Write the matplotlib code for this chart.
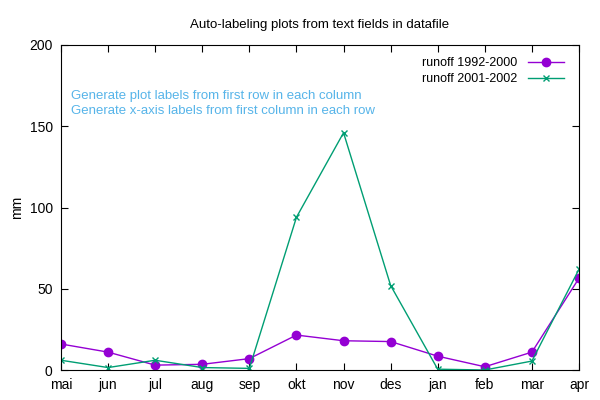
import matplotlib
matplotlib.use("Agg")
import matplotlib.pyplot as plt

plt.rcParams['font.family'] = ['Liberation Sans', 'DejaVu Sans']

months = ['mai', 'jun', 'jul', 'aug', 'sep', 'okt', 'nov', 'des', 'jan', 'feb', 'mar', 'apr']
runoff_1992_2000 = [16, 11, 3, 3.5, 7, 21.5, 18, 17.5, 8.5, 2, 11, 56.5]
runoff_2001_2002 = [6, 1.5, 6, 1.5, 1, 94, 146, 52, 0.5, 0, 5.5, 62]

fig = plt.figure(figsize=(6, 4), dpi=100)
ax = fig.add_axes([61 / 600, 30 / 400, 518 / 600, 325 / 400])

x = list(range(len(months)))
ax.plot(x, runoff_1992_2000, color='#9400d3', marker='o', markersize=6,
        linewidth=1, label='runoff 1992-2000')
ax.plot(x, runoff_2001_2002, color='#009e73', marker='x', markersize=5,
        markeredgewidth=1, linewidth=1, label='runoff 2001-2002')

ax.set_xlim(0, len(months) - 1)
ax.set_ylim(0, 200)
ax.set_xticks(x)
ax.set_xticklabels(months)
ax.set_yticks([0, 50, 100, 150, 200])
ax.tick_params(direction='in', top=True, right=True, labelsize=10, length=5, pad=6)
ax.set_ylabel('mm', fontsize=10, labelpad=4)
ax.set_title('Auto-labeling plots from text fields in datafile', fontsize=9.5, pad=12)

ax.text(0.02, 0.833, 'Generate plot labels from first row in each column',
        transform=ax.transAxes, color='#56b4e9', fontsize=9.5)
ax.text(0.02, 0.788, 'Generate x-axis labels from first column in each row',
        transform=ax.transAxes, color='#56b4e9', fontsize=9.5)

ax.legend(loc='upper right', frameon=False, markerfirst=False, fontsize=9,
          handlelength=2.9, borderaxespad=0.6, labelspacing=0.3,
          bbox_to_anchor=(0.995, 1.0))

fig.savefig('out.png', dpi=100)
